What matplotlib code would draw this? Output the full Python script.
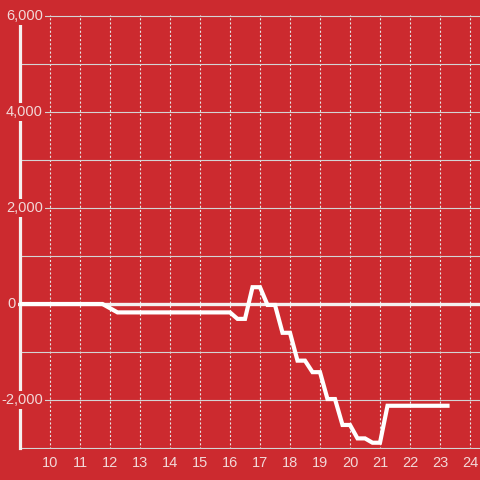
import matplotlib.pyplot as plt

plt.rcParams['font.family'] = ['Liberation Sans', 'DejaVu Sans']
plt.rcParams['lines.scale_dashes'] = False

# data (hour of day vs value)
hours = [9, 11.75, 12.25, 16.0, 16.25, 16.5, 16.75, 17.0, 17.25, 17.5, 17.75,
         18.0, 18.25, 18.5, 18.75, 19.0, 19.25, 19.5, 19.75, 20.0, 20.25,
         20.5, 20.75, 21.0, 21.25, 23.25]
values = [0, 0, -175, -175, -310, -310, 350, 350, -20, -20, -600,
          -600, -1180, -1180, -1420, -1420, -1980, -1980, -2520, -2520, -2800,
          -2800, -2890, -2890, -2120, -2120]

x_ticks = list(range(10, 25))
y_grid = list(range(-3000, 6001, 1000))
y_labels = [-2000, 0, 2000, 4000, 6000]

bg = '#cc2a2f'
txt = '#f2d8d8'

fig = plt.figure(figsize=(4.8, 4.8), dpi=100, facecolor=bg)
ax = fig.add_axes([20 / 480, 31 / 480, 460 / 480, 434 / 480], facecolor=bg)

px = 9000 / 432  # value units per pixel
ax.set_xlim(9, 9 + 460 / 30)
ax.set_ylim(-3000 - px, 6000 + px)

# grid
ax.set_xticks(x_ticks)
ax.set_yticks(y_grid)
ax.yaxis.grid(True, color='#d4d4d4', linewidth=0.8)
ax.xaxis.grid(True, color='#e6e6e6', linewidth=0.8, linestyle=(0, (1.5, 1.5)))
ax.set_axisbelow(True)
ax.tick_params(axis='y', length=0, labelleft=False)
ax.tick_params(axis='x', length=0, pad=5, labelsize=10.5, labelcolor=txt)
ax.set_xticklabels([str(t) for t in x_ticks])

for side in ['top', 'right', 'bottom']:
    ax.spines[side].set_visible(False)
ax.spines['left'].set_color('#f5f0f0')
ax.spines['left'].set_linewidth(2.3)
ax.spines['left'].set_bounds(-3000, 6000)
ax.spines['left'].set_zorder(3)

# zero line
ax.axhline(0, xmin=-2.5 / 460, color='#f4f0f0', linewidth=2.4, clip_on=False, zorder=2)

# series
ax.plot(hours, values, color='white', linewidth=3, solid_joinstyle='miter',
        solid_capstyle='projecting', zorder=4)

# y labels with background boxes over the axis line
for v in y_labels:
    off = -4 if v == 0 else 23
    ax.annotate(f'{v:,}', xy=(0, v), xycoords=ax.get_yaxis_transform(),
                xytext=(off, 0), textcoords='offset pixels', ha='right', va='center',
                fontsize=10.5, color=txt, annotation_clip=False, zorder=6,
                bbox=dict(boxstyle='square,pad=0.15', facecolor=bg, edgecolor='none'))

fig.savefig('out.png', dpi=100, facecolor=bg)
